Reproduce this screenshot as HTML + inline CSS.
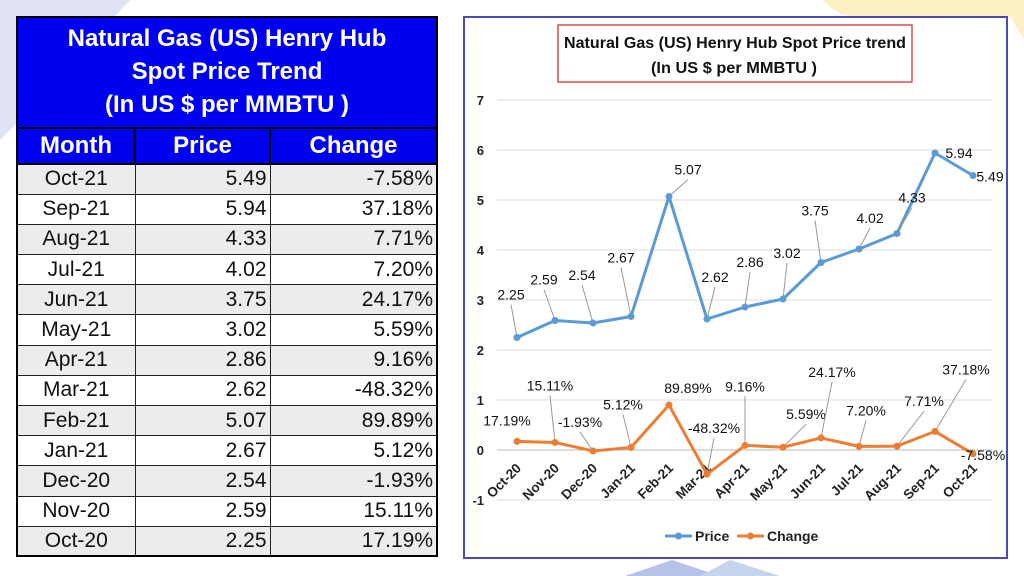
<!DOCTYPE html>
<html><head><meta charset="utf-8"><style>
body{margin:0;width:1024px;height:576px;background:#fff;position:relative;overflow:hidden;font-family:"Liberation Sans",sans-serif}
#tbl{position:absolute;left:16px;top:16px;width:422px;border-collapse:collapse;border:2px solid #000;table-layout:fixed}
#tbl td{border:1px solid #222;padding:0 3px;font-size:21px;color:#111;line-height:24px;box-sizing:border-box}
#tbl tr.r{height:30.2px}
#tbl tr.r:nth-child(odd) td{background:#ececec}
#tbl tr.r:nth-child(even) td{background:#fff}
#tbl td.ttl{background:#0000f0;color:#fff;font-weight:bold;font-size:24px;text-align:center;line-height:33px;padding:4px 0 6px}
#tbl tr.hd{height:36px}
#tbl tr.hd td{background:#0000f0;color:#fff;font-weight:bold;font-size:24px;text-align:center;border:2px solid #000}
</style></head><body>
<svg style="position:absolute;left:0;top:0" width="1024" height="576">
<polygon points="0,0 130,0 15,125 0,140" fill="#dfe3f3"/>
<ellipse cx="930" cy="-10" rx="110" ry="40" fill="#fdf0c4"/>
<polygon points="1000,0 1024,0 1024,40" fill="#fdf0c4"/>
<polygon points="625,576 672,560 720,576" fill="#b5c3e8"/>
<polygon points="700,576 730,560 780,576" fill="#c8d3ee"/>
</svg>
<table id="tbl">
<colgroup><col style="width:118px"><col style="width:135px"><col></colgroup>
<tr><td colspan="3" class="ttl">Natural Gas (US) Henry Hub<br>Spot Price Trend<br>(In US $ per MMBTU )</td></tr>
<tr class="hd"><td>Month</td><td>Price</td><td>Change</td></tr>
<tbody id="tb"></tbody>
</table>
<div style="position:absolute;left:463px;top:16px;width:545px;height:543px;border:2px solid #4a4ab8;box-sizing:border-box;background:#fff"></div>
<svg id="ch" style="position:absolute;left:0;top:0" width="1024" height="576"></svg>
<script>
const months=["Oct-20","Nov-20","Dec-20","Jan-21","Feb-21","Mar-21","Apr-21","May-21","Jun-21","Jul-21","Aug-21","Sep-21","Oct-21"];
const prices=[2.25,2.59,2.54,2.67,5.07,2.62,2.86,3.02,3.75,4.02,4.33,5.94,5.49];
const changes=[17.19,15.11,-1.93,5.12,89.89,-48.32,9.16,5.59,24.17,7.20,7.71,37.18,-7.58];
const yTicks=[-1,0,1,2,3,4,5,6,7];
const priceLabelOff=[[-6,-38],[-11,-36],[-11,-43],[-10,-54],[19,-22],[8,-37],[5,-40],[4,-41],[-6,-47],[11,-26],[15,-31],[24,5],[17,6]];
const changeLabelOff=[[-10,-16],[-5,-52],[-13,-24],[-8,-38],[19,-12],[7,-41],[0,-54],[23,-28],[11,-61],[7,-31],[27,-40],[31,-57],[10,6]];
const tb=document.getElementById('tb');
for(let i=months.length-1;i>=0;i--){
 const tr=document.createElement('tr');tr.className='r';
 
 
 tr.innerHTML='<td style="text-align:center">'+months[i]+'</td><td style="text-align:right">'+prices[i].toFixed(2)+'</td><td style="text-align:right">'+changes[i].toFixed(2)+'%</td>';
 tb.appendChild(tr);
}
const ns='http://www.w3.org/2000/svg',svg=document.getElementById('ch');
const X=i=>517+i*(973-517)/(months.length-1);
const Y=v=>450-v*50;
function el(t,a,txt){const e=document.createElementNS(ns,t);for(const k in a)e.setAttribute(k,a[k]);if(txt!==undefined)e.textContent=txt;svg.appendChild(e);return e;}
const F='"Liberation Sans",sans-serif';
let e=el('rect',{x:558,y:25,width:354,height:57,fill:'#fff',stroke:'#c33','stroke-width':1.3});


e=el('text',{x:735,y:48,'text-anchor':'middle','font-size':16,'font-weight':'bold','font-family':F,fill:'#111','textLength':342,'lengthAdjust':'spacingAndGlyphs'},'Natural Gas (US) Henry Hub Spot Price trend');


e=el('text',{x:734,y:73,'text-anchor':'middle','font-size':16,'font-weight':'bold','font-family':F,fill:'#111','textLength':166,'lengthAdjust':'spacingAndGlyphs'},'(In US $ per MMBTU )');


yTicks.forEach(t=>{
 e=el('line',{x1:497,x2:992,y1:Y(t),y2:Y(t),stroke:'#ddd','stroke-width':1});
 
 
 e=el('text',{x:484,y:Y(t)+5,'text-anchor':'end','font-size':13,'font-weight':'bold','font-family':F,fill:'#222'},String(t));
 
 
});
e=el('line',{x1:497,x2:992,y1:Y(0),y2:Y(0),stroke:'#bbb','stroke-width':1});


months.forEach((m,i)=>{
 e=el('text',{x:X(i)+5,y:469,'text-anchor':'end','font-size':13.5,'font-weight':'bold','font-family':F,fill:'#222',transform:'rotate(-45 '+(X(i)+5)+' 469)'},m);
 
 
});
function series(vals,col,offs,fmt,nm){
 e=el('polyline',{points:vals.map((v,i)=>X(i)+','+Y(v)).join(' '),fill:'none',stroke:col,'stroke-width':3,'stroke-linejoin':'round'});
 
 
 vals.forEach((v,i)=>{
  const px=X(i),py=Y(v),lx=px+offs[i][0],ly=py+offs[i][1];
  if(Math.hypot(offs[i][0],offs[i][1])>25){
   e=el('line',{x1:px,y1:py,x2:lx,y2:ly+5,stroke:'#999','stroke-width':1});
   
   
  }
  e=el('circle',{cx:px,cy:py,r:3.5,fill:col});
  
  
  e=el('text',{x:lx,y:ly,'text-anchor':'middle','font-size':14,'font-family':F,fill:'#111'},fmt(v));
  
  
 });
}
series(prices,'#5b9bd5',priceLabelOff,v=>v.toFixed(2),'price');
series(changes.map(c=>c/100),'#ed7d31',changeLabelOff,v=>(v*100).toFixed(2)+'%','change');
[['Price','#5b9bd5',665],['Change','#ed7d31',737]].forEach(([n,c,x])=>{
 e=el('line',{x1:x,x2:x+27,y1:536,y2:536,stroke:c,'stroke-width':3});
 
 
 el('circle',{cx:x+13.5,cy:536,r:3.5,fill:c});
 e=el('text',{x:x+30,y:541,'font-size':14,'font-weight':'bold','font-family':F,fill:'#222'},n);
 
 
});
</script>
</body></html>
